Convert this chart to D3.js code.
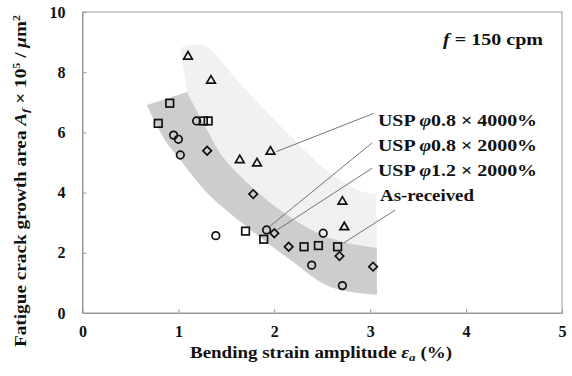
<!DOCTYPE html>
<html>
<head>
<meta charset="utf-8">
<script src="https://cdn.jsdelivr.net/npm/d3@7/dist/d3.min.js"></script>
<style>
  body { margin: 0; background: #fff; }
  svg text { font-family: 'Liberation Serif', 'Times New Roman', Times, serif; font-weight: bold; fill: #111; }
</style>
</head>
<body>
<svg id="chart" width="572" height="376"></svg>
<script>
// data (x = strain amplitude %, y = area x 10^5 um^2)
const triangles = [[1.10, 8.52], [1.34, 7.72], [1.64, 5.08], [1.82, 4.97], [1.96, 5.36], [2.71, 3.70], [2.73, 2.85]];
const circles = [[0.95, 5.91], [1.00, 5.77], [1.02, 5.25], [1.19, 6.38], [1.39, 2.57], [1.92, 2.76], [2.51, 2.65], [2.39, 1.59], [2.71, 0.91]];
const diamonds = [[1.30, 5.39], [1.78, 3.95], [2.00, 2.65], [2.15, 2.20], [2.68, 1.89], [3.03, 1.54]];
const squares = [[0.79, 6.30], [0.91, 6.97], [1.26, 6.38], [1.31, 6.38], [1.70, 2.72], [1.89, 2.45], [2.31, 2.20], [2.46, 2.24], [2.66, 2.20]];

// scatter bands
const darkUpper = [[1.09, 7.34], [1.30, 6.08], [1.49, 5.08], [2.06, 3.42], [2.58, 2.49], [3.07, 2.16]];
const darkLower = [[0.67, 6.91], [0.86, 5.75], [1.02, 5.08], [1.30, 3.99], [1.71, 2.87], [2.17, 1.76], [2.58, 0.87], [3.07, 0.60]];
const lightUpper = [[1.02, 8.80], [1.26, 8.90], [1.62, 7.70], [1.96, 6.55], [2.27, 5.55], [2.58, 4.65], [2.90, 4.05], [3.06, 3.95]];

// leader lines: point end, label end
const leaders = [
  [[2.02, 5.36], [3.035, 6.63]],
  [[1.95, 2.87], [3.02, 5.65]],
  [[2.03, 2.76], [3.02, 4.81]],
  [[2.72, 2.32], [3.26, 3.42]]
];

const xTicks = [0, 1, 2, 3, 4, 5];
const yTicks = [0, 2, 4, 6, 8, 10];

const svg = d3.select("#chart");
const x = d3.scaleLinear().domain([0, 5]).range([82.5, 562]);
const y = d3.scaleLinear().domain([0, 10]).range([313, 12]);

const edge = d3.line().x(d => x(d[0])).y(d => y(d[1])).curve(d3.curveCatmullRom);

function bandPath(upper, lower) {
  const a = edge(upper);
  const b = edge(lower.slice().reverse());
  return a + "L" + b.slice(1) + "Z";
}

svg.append("path")
  .attr("d", bandPath(lightUpper, darkUpper))
  .attr("fill", "#f1f1f1");

svg.append("path")
  .attr("d", bandPath(darkUpper, darkLower))
  .attr("fill", "#cdcdcd");

// frame
svg.append("rect")
  .attr("x", x(0)).attr("y", y(10))
  .attr("width", x(5) - x(0)).attr("height", y(0) - y(10))
  .attr("fill", "none").attr("stroke", "#999").attr("stroke-width", 1);

const xAxis = svg.append("g")
  .attr("transform", "translate(0," + y(0) + ")")
  .call(d3.axisBottom(x).tickValues(xTicks).tickSizeInner(-4).tickSizeOuter(0).tickPadding(13).tickFormat(d3.format("d")));
const yAxis = svg.append("g")
  .attr("transform", "translate(" + x(0) + ",0)")
  .call(d3.axisLeft(y).tickValues(yTicks).tickSizeInner(-4).tickSizeOuter(0).tickPadding(17).tickFormat(d3.format("d")));

[xAxis, yAxis].forEach(function (g) {
  g.attr("font-family", null);
  g.select(".domain").attr("stroke", "#999");
  g.selectAll(".tick line").attr("stroke", "#999");
  g.selectAll(".tick text")
    .attr("font-size", 16)
    .attr("fill", "#111");
});

// leaders
svg.selectAll(".leader")
  .data(leaders)
  .join("line")
  .attr("class", "leader")
  .attr("x1", d => x(d[0][0])).attr("y1", d => y(d[0][1]))
  .attr("x2", d => x(d[1][0])).attr("y2", d => y(d[1][1]))
  .attr("stroke", "#666").attr("stroke-width", 0.9);

// markers
const mk = svg.append("g").attr("fill", "none").attr("stroke", "#111").attr("stroke-width", 1.7);

mk.selectAll(".tri").data(triangles).join("path")
  .attr("d", d3.symbol(d3.symbolTriangle2, 54))
  .attr("transform", d => "translate(" + x(d[0]) + "," + y(d[1]) + ")");
mk.selectAll(".cir").data(circles).join("circle")
  .attr("cx", d => x(d[0])).attr("cy", d => y(d[1])).attr("r", 3.8);
mk.selectAll(".dia").data(diamonds).join("path")
  .attr("d", d3.symbol(d3.symbolSquare2, 46))
  .attr("transform", d => "translate(" + x(d[0]) + "," + y(d[1]) + ") rotate(45)");
mk.selectAll(".sq").data(squares).join("rect")
  .attr("x", d => x(d[0]) - 3.8).attr("y", d => y(d[1]) - 3.8)
  .attr("width", 7.6).attr("height", 7.6);

// texts
const f = svg.append("text").attr("x", 443).attr("y", 45).attr("font-size", 17)
  .attr("textLength", 100).attr("lengthAdjust", "spacingAndGlyphs");
f.append("tspan").attr("font-style", "italic").text("f");
f.append("tspan").text(" = 150 cpm");

const labels = [
  ["0.8", "4000%", 126, 159],
  ["0.8", "2000%", 151, 159],
  ["1.2", "2000%", 176, 159]
];
labels.forEach(function (l) {
  const t = svg.append("text").attr("x", 378).attr("y", l[2]).attr("font-size", 17)
    .attr("textLength", l[3]).attr("lengthAdjust", "spacingAndGlyphs");
  t.append("tspan").text("USP ");
  t.append("tspan").attr("font-style", "italic").text("\u03c6");
  t.append("tspan").text(l[0] + " \u00d7 " + l[1]);
});
svg.append("text").attr("x", 380).attr("y", 201).attr("font-size", 17)
  .attr("textLength", 94).attr("lengthAdjust", "spacingAndGlyphs")
  .text("As-received");

const xl = svg.append("text").attr("x", 190).attr("y", 358).attr("font-size", 16)
  .attr("textLength", 262).attr("lengthAdjust", "spacingAndGlyphs");
xl.append("tspan").text("Bending strain amplitude ");
xl.append("tspan").attr("font-style", "italic").text("\u03b5");
xl.append("tspan").attr("font-style", "italic").attr("font-size", 11).attr("dy", 3).text("a");
xl.append("tspan").attr("dy", -3).text(" (%)");

const yl = svg.append("text")
  .attr("transform", "translate(26,347) rotate(-90)")
  .attr("font-size", 16)
  .attr("textLength", 332).attr("lengthAdjust", "spacingAndGlyphs");
yl.append("tspan").text("Fatigue crack growth area ");
yl.append("tspan").attr("font-style", "italic").text("A");
yl.append("tspan").attr("font-style", "italic").attr("font-size", 11).attr("dy", 3).text("f");
yl.append("tspan").attr("dy", -3).text(" \u00d7 10");
yl.append("tspan").attr("font-size", 10).attr("dy", -6).text("5");
yl.append("tspan").attr("dy", 6).text(" / ");
yl.append("tspan").attr("font-style", "italic").text("\u03bc");
yl.append("tspan").text("m");
yl.append("tspan").attr("font-size", 10).attr("dy", -6).text("2");
</script>
</body>
</html>
